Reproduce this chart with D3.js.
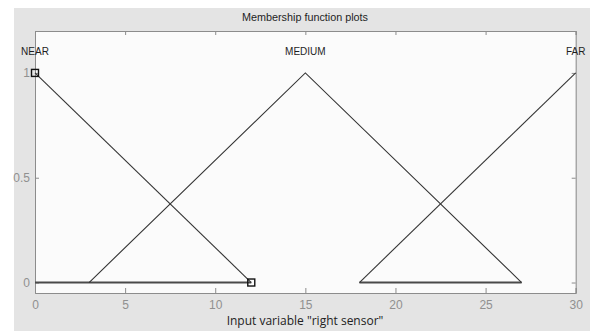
<!DOCTYPE html>
<html>
<head>
<meta charset="utf-8">
<script src="https://cdn.jsdelivr.net/npm/d3@7"></script>
<style>
  html, body { margin: 0; padding: 0; background: #ffffff; }
  svg { display: block; }
</style>
</head>
<body>
<svg id="chart" width="590" height="331"></svg>
<script>
// Input variable "right sensor": three membership functions over [0, 30]
const xTicks = [0, 5, 10, 15, 20, 25, 30];
const yTicks = [0, 0.5, 1];

const mfNames = ["NEAR", "MEDIUM", "FAR"];
const mfPeaks = [0, 15, 30];

const nearX = [0, 12];
const nearY = [1, 0];
const mediumX = [3, 15, 27];
const mediumY = [0, 1, 0];
const farX = [18, 30];
const farY = [0, 1];

// zero-level segments along the bottom
const baseStart = [0, 18];
const baseEnd = [12, 27];

// handles on the selected function (NEAR)
const markerX = [0, 12];
const markerY = [1, 0];

const svg = d3.select("#chart");
const W = 590, H = 331;

const plotLeft = 35, plotRight = 575.7, plotTop = 31, plotBottom = 293;
const x = d3.scaleLinear().domain([0, 30]).range([plotLeft, plotRight]);
const y = d3.scaleLinear().domain([-0.05, 1.2]).range([plotBottom, plotTop]);

// figure background
svg.append("rect").attr("x", 14).attr("y", 8).attr("width", W - 14).attr("height", 323)
  .attr("fill", "#e4e4e4");

// title
svg.append("text").attr("x", 305).attr("y", 21)
  .attr("text-anchor", "middle")
  .attr("font-family", "Liberation Sans, Arial, sans-serif")
  .attr("font-size", "10.8px").attr("fill", "#1e1e1e")
  .text("Membership function plots");

// plot area
svg.append("rect").attr("x", plotLeft).attr("y", plotTop)
  .attr("width", plotRight - plotLeft).attr("height", plotBottom - plotTop)
  .attr("fill", "#fbfbfb");

const axisColor = "#8c8c8c";
function styleAxis(g) {
  g.select(".domain").attr("stroke", axisColor);
  g.selectAll(".tick line").attr("stroke", axisColor);
  g.selectAll(".tick text").attr("fill", "#909090")
    .attr("font-family", "Liberation Sans, Arial, sans-serif")
    .attr("font-size", "12px");
}

// bottom axis with labels, ticks pointing inward
svg.append("g").attr("transform", `translate(0,${plotBottom})`)
  .call(d3.axisBottom(x).tickValues(xTicks).tickSize(-5).tickPadding(7.5).tickFormat(d3.format("d")))
  .call(styleAxis);

// top axis, ticks only
svg.append("g").attr("transform", `translate(0,${plotTop})`)
  .call(d3.axisTop(x).tickValues(xTicks).tickSize(-4).tickFormat(""))
  .call(styleAxis);

// left axis with labels
svg.append("g").attr("transform", `translate(${plotLeft},0)`)
  .call(d3.axisLeft(y).tickValues(yTicks).tickSize(-4).tickPadding(5).tickFormat(d => d === 0.5 ? "0.5" : d3.format("d")(d)))
  .call(styleAxis);

// right axis, ticks only
svg.append("g").attr("transform", `translate(${plotRight},0)`)
  .call(d3.axisRight(y).tickValues(yTicks).tickSize(-4).tickFormat(""))
  .call(styleAxis);

// zero-level segments
svg.append("g").selectAll("line").data(baseStart).join("line")
  .attr("x1", d => x(d)).attr("x2", (d, i) => x(baseEnd[i]))
  .attr("y1", y(0)).attr("y2", y(0))
  .attr("stroke", "#4a4a4a").attr("stroke-width", 2);

// membership function curves
const line = d3.line().x(d => x(d[0])).y(d => y(d[1]));
const curves = [
  d3.zip(nearX, nearY),
  d3.zip(mediumX, mediumY),
  d3.zip(farX, farY)
];
svg.append("g").selectAll("path").data(curves).join("path")
  .attr("d", line)
  .attr("fill", "none").attr("stroke", "#333").attr("stroke-width", 1.1);

// function names above their peaks
svg.append("g").selectAll("text").data(mfNames).join("text")
  .attr("x", (d, i) => x(mfPeaks[i]))
  .attr("y", 55)
  .attr("text-anchor", "middle")
  .attr("font-family", "Liberation Sans, Arial, sans-serif")
  .attr("font-size", "10px").attr("fill", "#1e1e1e")
  .text(d => d);

// square handles
const ms = 7;
svg.append("g").selectAll("rect").data(markerX).join("rect")
  .attr("x", d => x(d) - ms / 2)
  .attr("y", (d, i) => y(markerY[i]) - ms / 2)
  .attr("width", ms).attr("height", ms)
  .attr("fill", "none").attr("stroke", "#111").attr("stroke-width", 1.4);

// x axis label
svg.append("text").attr("x", 305).attr("y", 325)
  .attr("text-anchor", "middle")
  .attr("font-family", "Open Sans, sans-serif")
  .attr("font-size", "12px").attr("fill", "#222")
  .text("Input variable \"right sensor\"");
</script>
</body>
</html>
